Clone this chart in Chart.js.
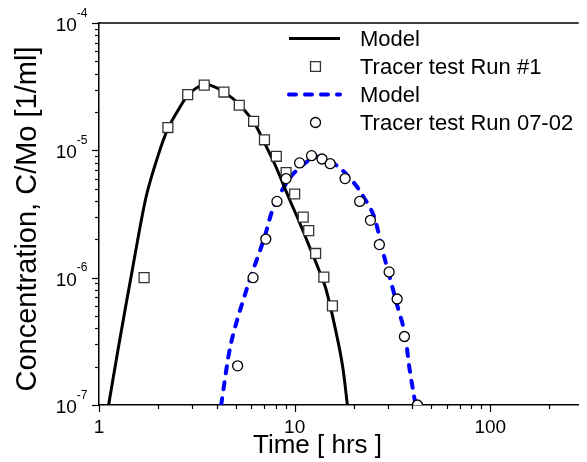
<!DOCTYPE html>
<html>
<head>
<meta charset="utf-8">
<script src="https://cdn.jsdelivr.net/npm/chart.js@4/dist/chart.umd.min.js"></script>
<style>
  body { margin: 0; background: #fff; }
  #wrap { width: 587px; height: 462px; }
</style>
</head>
<body>
<div id="wrap"><canvas id="chart" width="587" height="462"></canvas></div>
<script>
// Tracer test Run #1 (squares)
const run1Time = [1.70, 2.25, 2.84, 3.45, 4.35, 5.21, 6.17, 7.01, 8.06, 9.04, 10.0, 11.06, 11.8, 12.8, 14.1, 15.6];
const run1Conc = [1.0e-6, 1.51e-5, 2.74e-5, 3.25e-5, 2.87e-5, 2.26e-5, 1.69e-5, 1.21e-5, 8.98e-6, 6.7e-6, 4.54e-6, 2.99e-6, 2.34e-6, 1.55e-6, 1.01e-6, 6.0e-7];

// Tracer test Run 07-02 (circles)
const run2Time = [5.11, 6.13, 7.12, 8.12, 9.04, 10.6, 12.2, 13.8, 15.2, 18.1, 21.5, 24.4, 27.1, 30.4, 33.4, 36.4, 42.4];
const run2Conc = [2.03e-7, 1.0e-6, 2.01e-6, 3.97e-6, 6.0e-6, 7.96e-6, 9.08e-6, 8.55e-6, 7.85e-6, 6.0e-6, 3.97e-6, 2.82e-6, 1.82e-6, 1.11e-6, 6.8e-7, 3.45e-7, 1.0e-7];

// Model curve for run #1 (black solid)
const model1Time = [1.12, 1.25, 1.49, 1.74, 2.0, 2.25, 2.6, 2.9, 3.45, 4.0, 4.6, 5.2, 6.2, 7.0, 8.0, 9.3, 10.5, 12.0, 13.3, 14.5, 16.3, 17.6, 18.6];
const model1Conc = [1e-7, 2.7e-7, 1.22e-6, 4.3e-6, 9.0e-6, 1.48e-5, 2.2e-5, 2.8e-5, 3.28e-5, 3.1e-5, 2.7e-5, 2.3e-5, 1.65e-5, 1.15e-5, 7.5e-6, 4.3e-6, 2.8e-6, 1.7e-6, 1.15e-6, 8e-7, 3.7e-7, 2e-7, 1e-7];

// Model curve for run 07-02 (blue dashed)
const model2Time = [4.21, 4.73, 5.74, 6.96, 7.82, 9.48, 11.5, 13.2, 16.6, 20.1, 22.1, 25.3, 28.4, 30.4, 33.2, 36.5, 38.7, 41.5];
const model2Conc = [1e-7, 3.06e-7, 8.5e-7, 2.0e-6, 3.6e-6, 6.1e-6, 8.1e-6, 8.9e-6, 7.5e-6, 5.55e-6, 4.5e-6, 3.1e-6, 1.55e-6, 1.05e-6, 6.3e-7, 3.7e-7, 1.9e-7, 1e-7];

// Axis ticks
const xMajorTicks = [1, 10, 100];
const xTickLabels = ['1', '10', '100'];
const yMajorTicks = [1e-7, 1e-6, 1e-5, 1e-4];
const yTickExponents = ['-7', '-6', '-5', '-4'];

const FONT = '"Liberation Sans", Arial, sans-serif';

function toPoints(xs, ys) {
    return xs.map((v, i) => ({ x: v, y: ys[i] }));
}

// Draws frame, tick marks, tick labels, axis titles and the legend
const decor = {
    id: 'decor',
    afterDraw(chart) {
        const ctx = chart.ctx;
        const a = chart.chartArea;
        const xs = chart.scales.x;
        const ys = chart.scales.y;
        ctx.save();
        ctx.strokeStyle = '#000';
        ctx.fillStyle = '#000';

        // top frame line
        ctx.lineWidth = 1.5;
        ctx.beginPath();
        ctx.moveTo(a.left, a.top);
        ctx.lineTo(a.right, a.top);
        ctx.stroke();

        // tick marks
        ctx.lineWidth = 1.2;
        for (let k = 0; k <= 2; k++) {
            for (let m = 1; m <= 9; m++) {
                const v = m * Math.pow(10, k);
                if (v > xs.max) continue;
                const px = Math.round(xs.getPixelForValue(v)) + 0.5;
                const len = m === 1 ? 7 : 4;
                ctx.beginPath();
                ctx.moveTo(px, a.bottom);
                ctx.lineTo(px, a.bottom + len);
                ctx.stroke();
            }
        }
        for (let k = -7; k <= -4; k++) {
            for (let m = 1; m <= 9; m++) {
                const v = m * Math.pow(10, k);
                if (v > ys.max * 1.0001) continue;
                const py = Math.round(ys.getPixelForValue(v)) + 0.5;
                const len = m === 1 ? 7 : 4;
                ctx.beginPath();
                ctx.moveTo(a.left, py);
                ctx.lineTo(a.left - len, py);
                ctx.stroke();
            }
        }

        // x tick labels
        ctx.font = '19px ' + FONT;
        ctx.textAlign = 'center';
        ctx.textBaseline = 'alphabetic';
        xMajorTicks.forEach((v, i) => {
            ctx.fillText(xTickLabels[i], xs.getPixelForValue(v), a.bottom + 27.5);
        });

        // y tick labels as 10 with superscript exponent
        yMajorTicks.forEach((v, i) => {
            const py = ys.getPixelForValue(v);
            ctx.font = '12px ' + FONT;
            const ew = ctx.measureText(yTickExponents[i]).width;
            ctx.textAlign = 'right';
            ctx.fillText(yTickExponents[i], 87.5, py - 6.5);
            ctx.font = '19px ' + FONT;
            ctx.fillText('10', 87.5 - ew, py + 8);
        });

        // axis titles
        ctx.font = '26px ' + FONT;
        ctx.textAlign = 'center';
        ctx.fillText('Time [ hrs ]', 317.5, 453);
        ctx.save();
        ctx.font = '29px ' + FONT;
        ctx.translate(36, 219);
        ctx.rotate(-Math.PI / 2);
        ctx.fillText('Concentration, C/Mo [1/ml]', 0, 0);
        ctx.restore();

        // legend
        ctx.font = '22px ' + FONT;
        ctx.textAlign = 'left';
        ctx.textBaseline = 'middle';
        chart.data.datasets.forEach((ds, i) => {
            const ry = 38.5 + i * 28;
            ctx.save();
            if (ds.showLine) {
                ctx.strokeStyle = ds.borderColor;
                ctx.lineWidth = ds.borderWidth;
                ctx.lineCap = ds.borderCapStyle || 'butt';
                ctx.setLineDash(ds.borderDash || []);
                ctx.beginPath();
                ctx.moveTo(289, ry);
                ctx.lineTo(340, ry);
                ctx.stroke();
            } else {
                ctx.fillStyle = ds.pointBackgroundColor;
                ctx.strokeStyle = ds.pointBorderColor;
                ctx.lineWidth = ds.pointBorderWidth;
                Chart.helpers.drawPoint(ctx, {
                    pointStyle: ds.pointStyle,
                    radius: ds.pointRadius,
                    borderWidth: ds.pointBorderWidth,
                    rotation: 0
                }, 315.5, ry);
            }
            ctx.restore();
            ctx.fillText(ds.label, 360, ry + 1);
        });
        ctx.restore();
    }
};

const ctx = document.getElementById('chart').getContext('2d');
new Chart(ctx, {
    type: 'scatter',
    data: {
        datasets: [
            {
                label: 'Model',
                data: toPoints(model1Time, model1Conc),
                showLine: true,
                borderColor: '#000000',
                borderWidth: 3,
                tension: 0.3,
                pointRadius: 0,
                clip: 0,
                order: 2
            },
            {
                label: 'Tracer test Run #1',
                data: toPoints(run1Time, run1Conc),
                showLine: false,
                pointStyle: 'rect',
                pointRadius: 7,
                pointBackgroundColor: '#ffffff',
                pointBorderColor: '#333333',
                pointBorderWidth: 1.3,
                clip: 0,
                order: 1
            },
            {
                label: 'Model',
                data: toPoints(model2Time, model2Conc),
                showLine: true,
                borderColor: '#0000ff',
                borderWidth: 4,
                borderDash: [7, 9],
                borderCapStyle: 'round',
                tension: 0.3,
                pointRadius: 0,
                clip: 0,
                order: 3
            },
            {
                label: 'Tracer test Run 07-02',
                data: toPoints(run2Time, run2Conc),
                showLine: false,
                pointStyle: 'circle',
                pointRadius: 5,
                pointBackgroundColor: '#ffffff',
                pointBorderColor: '#000000',
                pointBorderWidth: 1.3,
                clip: 0,
                order: 0
            }
        ]
    },
    options: {
        responsive: false,
        animation: false,
        devicePixelRatio: 1,
        layout: { padding: { top: 23, right: 0, left: 0, bottom: 0 } },
        plugins: {
            legend: { display: false },
            tooltip: { enabled: false }
        },
        scales: {
            x: {
                type: 'logarithmic',
                min: 1,
                max: 283,
                grid: { display: false, drawTicks: false },
                border: { display: true, color: '#000', width: 1.5 },
                ticks: { display: false },
                afterFit: scale => { scale.height = 57; }
            },
            y: {
                type: 'logarithmic',
                min: 1e-7,
                max: 1e-4,
                grid: { display: false, drawTicks: false },
                border: { display: true, color: '#000', width: 1.5 },
                ticks: { display: false },
                afterFit: scale => { scale.width = 99; }
            }
        }
    },
    plugins: [decor]
});
</script>
</body>
</html>
